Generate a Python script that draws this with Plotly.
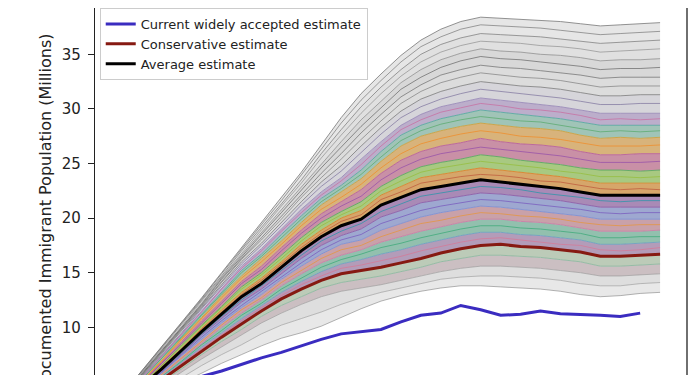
import plotly.graph_objects as go

# ---------------- data ----------------
years = list(range(1990, 2018))          # model ensemble years
years_current = list(range(1990, 2017))  # widely accepted estimate years

current_estimate = [3.5, 3.9, 4.3, 4.8, 5.5, 6.0, 6.6, 7.2, 7.7, 8.3, 8.9, 9.4, 9.6, 9.8,
                    10.5, 11.1, 11.3, 12.0, 11.6, 11.1, 11.2, 11.5, 11.25, 11.2, 11.1, 11.0, 11.3]
conservative_estimate = [2.5, 3.9, 5.2, 6.5, 7.8, 9.1, 10.3, 11.5, 12.6, 13.5, 14.3, 14.9, 15.2, 15.5,
                         15.9, 16.3, 16.8, 17.2, 17.5, 17.6, 17.4, 17.3, 17.1, 16.9, 16.5, 16.5, 16.6, 16.7]
average_estimate = [3.0, 4.6, 6.2, 7.9, 9.6, 11.2, 12.8, 14.0, 15.5, 17.0, 18.3, 19.3, 19.9, 21.2,
                    21.9, 22.6, 22.9, 23.2, 23.5, 23.3, 23.1, 22.9, 22.7, 22.4, 22.1, 22.1, 22.1, 22.1]

# individual simulation runs that bound the bands of the ensemble (bottom to top)
run_low_edge = [2.0, 3.0, 4.0, 4.9, 5.8, 6.7, 7.5, 8.3, 9.0, 9.5, 10.1, 10.9, 11.7, 12.4,
                12.9, 13.3, 13.6, 13.8, 13.8, 13.7, 13.6, 13.5, 13.3, 13.0, 12.8, 12.9, 13.1, 13.2]
run_low_2 = [2.2, 3.3, 4.4, 5.4, 6.5, 7.5, 8.4, 9.4, 10.2, 10.8, 11.4, 12.1, 12.7, 13.2,
             13.6, 14.0, 14.4, 14.6, 14.7, 14.7, 14.6, 14.5, 14.3, 14.0, 13.8, 13.8, 14.0, 14.1]
run_low_3 = [2.3, 3.5, 4.7, 5.9, 7.1, 8.2, 9.3, 10.4, 11.3, 12.1, 12.8, 13.3, 13.6, 13.9,
             14.3, 14.7, 15.1, 15.4, 15.6, 15.6, 15.5, 15.4, 15.2, 15.0, 14.7, 14.7, 14.8, 14.9]
run_c01 = [2.4, 3.7, 5.0, 6.2, 7.5, 8.7, 9.8, 11.0, 12.0, 12.8, 13.6, 14.1, 14.4, 14.7,
           15.1, 15.5, 16.0, 16.3, 16.6, 16.6, 16.5, 16.4, 16.2, 16.0, 15.6, 15.6, 15.7, 15.8]
run_c03 = [2.6, 4.0, 5.4, 6.8, 8.2, 9.5, 10.8, 12.0, 13.2, 14.2, 15.1, 15.8, 16.2, 16.7,
           17.1, 17.6, 18.0, 18.4, 18.7, 18.7, 18.5, 18.4, 18.2, 18.0, 17.6, 17.6, 17.7, 17.8]
run_c04 = [2.7, 4.2, 5.6, 7.1, 8.5, 10.0, 11.3, 12.5, 13.8, 14.9, 15.9, 16.6, 17.1, 17.8,
           18.3, 18.8, 19.2, 19.6, 19.9, 19.9, 19.7, 19.6, 19.4, 19.1, 18.8, 18.8, 18.8, 18.9]
run_c05 = [2.8, 4.3, 5.8, 7.4, 8.9, 10.4, 11.8, 13.0, 14.4, 15.6, 16.7, 17.6, 18.0, 18.9,
           19.5, 20.1, 20.5, 20.8, 21.1, 21.0, 20.8, 20.6, 20.4, 20.2, 19.9, 19.9, 19.9, 19.9]
run_c06 = [2.9, 4.5, 6.0, 7.6, 9.3, 10.8, 12.3, 13.5, 14.9, 16.3, 17.5, 18.4, 19.0, 20.1,
           20.7, 21.4, 21.7, 22.0, 22.3, 22.2, 22.0, 21.8, 21.6, 21.3, 21.0, 21.0, 21.0, 21.0]
run_c08 = [3.1, 4.7, 6.4, 8.1, 9.9, 11.6, 13.2, 14.5, 16.0, 17.6, 18.9, 20.0, 20.7, 22.1,
           22.9, 23.7, 24.0, 24.3, 24.6, 24.4, 24.2, 24.0, 23.8, 23.5, 23.2, 23.2, 23.2, 23.2]
run_c09 = [3.1, 4.8, 6.5, 8.4, 10.2, 11.9, 13.7, 15.0, 16.6, 18.2, 19.6, 20.6, 21.5, 22.9,
           23.9, 24.7, 25.1, 25.4, 25.8, 25.6, 25.3, 25.1, 24.9, 24.6, 24.4, 24.4, 24.3, 24.4]
run_c10 = [3.2, 5.0, 6.8, 8.7, 10.6, 12.4, 14.2, 15.6, 17.3, 18.9, 20.4, 21.5, 22.6, 24.1,
           25.3, 26.1, 26.6, 26.9, 27.3, 27.0, 26.8, 26.7, 26.5, 26.1, 25.8, 25.8, 25.9, 25.9]
run_c11 = [3.2, 5.1, 7.0, 9.0, 10.9, 12.9, 14.7, 16.3, 17.9, 19.6, 21.2, 22.4, 23.6, 25.2,
           26.6, 27.5, 28.0, 28.4, 28.7, 28.5, 28.3, 28.2, 28.0, 27.6, 27.3, 27.4, 27.3, 27.4]
run_c12 = [3.3, 5.2, 7.2, 9.2, 11.2, 13.3, 15.2, 16.7, 18.5, 20.2, 21.8, 23.0, 24.4, 26.1,
           27.6, 28.5, 29.1, 29.5, 29.9, 29.7, 29.5, 29.3, 29.1, 28.8, 28.5, 28.5, 28.5, 28.5]
run_c13 = [3.3, 5.3, 7.3, 9.4, 11.5, 13.6, 15.6, 17.2, 19.0, 20.8, 22.4, 23.7, 25.4, 27.0,
           28.5, 29.5, 30.2, 30.6, 31.0, 30.8, 30.6, 30.4, 30.2, 29.9, 29.6, 29.6, 29.6, 29.6]
run_high_1 = [3.4, 5.5, 7.5, 9.6, 11.8, 13.9, 16.0, 17.7, 19.6, 21.5, 23.3, 24.8, 26.6, 28.3,
              29.8, 30.9, 31.6, 32.1, 32.5, 32.3, 32.1, 32.0, 31.8, 31.5, 31.2, 31.2, 31.3, 31.3]
run_high_2 = [3.5, 5.6, 7.7, 9.8, 12.0, 14.2, 16.3, 18.2, 20.2, 22.2, 24.1, 25.9, 27.8, 29.5,
              31.1, 32.2, 33.1, 33.6, 34.0, 33.8, 33.7, 33.5, 33.3, 33.1, 32.8, 32.9, 32.9, 32.9]
run_high_3 = [3.6, 5.7, 7.9, 10.0, 12.2, 14.5, 16.6, 18.7, 20.8, 22.9, 25.0, 27.0, 29.0, 30.7,
              32.4, 33.6, 34.5, 35.1, 35.5, 35.3, 35.2, 35.0, 34.9, 34.7, 34.4, 34.5, 34.5, 34.6]
run_high_4 = [3.7, 5.9, 8.0, 10.2, 12.5, 14.7, 17.0, 19.1, 21.3, 23.5, 25.9, 28.1, 30.2, 32.0,
              33.6, 35.0, 35.9, 36.5, 36.9, 36.8, 36.7, 36.6, 36.4, 36.2, 36.0, 36.1, 36.2, 36.3]
run_high_edge = [3.8, 6.0, 8.2, 10.4, 12.7, 15.0, 17.3, 19.6, 21.9, 24.2, 26.7, 29.2, 31.4, 33.2,
                 34.9, 36.3, 37.3, 38.0, 38.4, 38.3, 38.2, 38.1, 38.0, 37.8, 37.6, 37.7, 37.8, 37.9]

# further individual runs visible inside the bands (thin lines)
run_x01 = [2.6, 4.0, 5.3, 6.7, 8.0, 9.3, 10.6, 11.8, 12.9, 13.9, 14.7, 15.4, 15.7, 16.1,
           16.5, 17.0, 17.4, 17.8, 18.1, 18.2, 18.0, 17.8, 17.6, 17.5, 17.1, 17.0, 17.1, 17.3]
run_x02 = [2.7, 4.1, 5.5, 6.9, 8.4, 9.7, 11.1, 12.2, 13.5, 14.5, 15.5, 16.2, 16.7, 17.3,
           17.7, 18.2, 18.6, 19.0, 19.3, 19.3, 19.1, 19.0, 18.8, 18.6, 18.2, 18.2, 18.3, 18.3]
run_x03 = [2.8, 4.3, 5.7, 7.2, 8.7, 10.2, 11.6, 12.7, 14.1, 15.2, 16.3, 17.1, 17.5, 18.3,
           18.9, 19.5, 19.8, 20.2, 20.5, 20.4, 20.2, 20.1, 19.9, 19.6, 19.4, 19.3, 19.4, 19.4]
run_x04 = [2.9, 4.4, 5.9, 7.5, 9.1, 10.6, 12.0, 13.3, 14.6, 15.9, 17.1, 18.0, 18.5, 19.5,
           20.1, 20.7, 21.1, 21.4, 21.7, 21.6, 21.4, 21.2, 21.0, 20.8, 20.5, 20.4, 20.5, 20.5]
run_x05 = [3.0, 4.5, 6.1, 7.7, 9.4, 11.0, 12.5, 13.8, 15.2, 16.6, 17.9, 18.8, 19.5, 20.6,
           21.3, 22.0, 22.3, 22.6, 22.9, 22.8, 22.6, 22.3, 22.1, 21.9, 21.6, 21.5, 21.6, 21.6]
run_x06 = [3.0, 4.7, 6.3, 8.0, 9.8, 11.4, 13.0, 14.3, 15.8, 17.3, 18.6, 19.7, 20.3, 21.7,
           22.4, 23.2, 23.5, 23.8, 24.0, 23.9, 23.7, 23.4, 23.3, 23.0, 22.7, 22.6, 22.7, 22.6]
run_x07 = [3.1, 4.8, 6.5, 8.3, 10.1, 11.8, 13.5, 14.8, 16.3, 17.9, 19.3, 20.3, 21.1, 22.5,
           23.4, 24.2, 24.6, 24.9, 25.2, 25.0, 24.8, 24.6, 24.3, 24.1, 23.8, 23.8, 23.7, 23.8]
run_x08 = [3.2, 4.9, 6.7, 8.6, 10.4, 12.2, 14.0, 15.3, 17.0, 18.6, 20.0, 21.1, 22.0, 23.5,
           24.6, 25.4, 25.9, 26.2, 26.5, 26.3, 26.1, 25.9, 25.7, 25.4, 25.1, 25.1, 25.1, 25.2]
run_x09 = [3.2, 5.1, 6.9, 8.9, 10.8, 12.7, 14.5, 16.0, 17.6, 19.3, 20.8, 21.9, 23.1, 24.6,
           25.9, 26.8, 27.3, 27.7, 28.0, 27.8, 27.5, 27.4, 27.2, 26.9, 26.6, 26.6, 26.6, 26.7]
run_x10 = [3.3, 5.2, 7.1, 9.1, 11.1, 13.1, 15.0, 16.5, 18.2, 19.9, 21.5, 22.7, 24.0, 25.6,
           27.1, 28.0, 28.6, 29.0, 29.3, 29.1, 28.9, 28.8, 28.5, 28.2, 27.9, 28.0, 27.9, 28.0]
run_x11 = [3.3, 5.3, 7.3, 9.3, 11.4, 13.5, 15.4, 17.0, 18.8, 20.5, 22.1, 23.4, 24.9, 26.6,
           28.1, 29.0, 29.7, 30.1, 30.5, 30.3, 30.0, 29.9, 29.7, 29.4, 29.0, 29.1, 29.0, 29.1]
run_x12 = [3.4, 5.4, 7.4, 9.5, 11.7, 13.8, 15.8, 17.5, 19.3, 21.2, 22.9, 24.3, 26.0, 27.7,
           29.2, 30.2, 30.9, 31.4, 31.8, 31.6, 31.4, 31.2, 31.0, 30.7, 30.4, 30.4, 30.5, 30.5]
run_x13 = [3.5, 5.6, 7.6, 9.7, 11.9, 14.1, 16.2, 18.0, 19.9, 21.9, 23.7, 25.4, 27.2, 28.9,
           30.5, 31.6, 32.4, 32.9, 33.3, 33.1, 32.9, 32.8, 32.6, 32.3, 32.0, 32.1, 32.1, 32.1]
run_x14 = [3.6, 5.7, 7.8, 9.9, 12.1, 14.4, 16.5, 18.5, 20.5, 22.6, 24.6, 26.5, 28.4, 30.1,
           31.8, 32.9, 33.8, 34.4, 34.8, 34.6, 34.5, 34.3, 34.1, 33.9, 33.6, 33.7, 33.7, 33.8]
run_x15 = [3.7, 5.8, 8.0, 10.1, 12.4, 14.6, 16.8, 18.9, 21.1, 23.2, 25.5, 27.6, 29.6, 31.4,
           33.0, 34.3, 35.2, 35.8, 36.2, 36.1, 36.0, 35.8, 35.7, 35.5, 35.2, 35.3, 35.4, 35.5]
run_x16 = [3.8, 6.0, 8.1, 10.3, 12.6, 14.9, 17.2, 19.4, 21.6, 23.9, 26.3, 28.7, 30.8, 32.6,
           34.3, 35.7, 36.6, 37.3, 37.7, 37.6, 37.5, 37.4, 37.2, 37.0, 36.8, 36.9, 37.0, 37.1]

y_ticks = [10, 15, 20, 25, 30, 35]

# ---------------- figure ----------------
fig = go.Figure()

# (run, band fill colour below it, line colour, line width)
ensemble = [
    (run_low_edge, None, "rgba(120,120,120,0.7)", 0.8),
    (run_low_2, "#e8e8e8", "rgba(140,140,140,0.7)", 0.8),
    (run_low_3, "#dedede", "rgba(150,150,150,0.8)", 0.8),
    (run_c01, "#cbbfc2", "#8fb8a0", 0.9),
    (conservative_estimate, "#bccbb8", "#c98f8f", 0.9),
    (run_c03, "#b39cb9", "#6f9fbf", 0.9),
    (run_c04, "#92c0ae", "#c77fa6", 0.9),
    (run_c05, "#c9a1a9", "#7f8fd0", 0.9),
    (run_c06, "#9ea8d0", "#8b5fa8", 0.9),
    (average_estimate, "#a98ab6", "#9a6fb0", 0.9),
    (run_c08, "#d6a66a", "#d9822b", 0.9),
    (run_c09, "#a8c981", "#5aa860", 0.9),
    (run_c10, "#c990a6", "#b8609a", 0.9),
    (run_c11, "#d8b37b", "#c9a040", 0.9),
    (run_c12, "#a0c4b7", "#58a8a0", 0.9),
    (run_c13, "#bcaecb", "#9a8ab8", 0.9),
    (run_high_1, "#d6d5da", "rgba(110,110,110,0.8)", 0.9),
    (run_high_2, "#dcdcdc", "rgba(90,90,90,0.7)", 0.9),
    (run_high_3, "#d8d8d8", "rgba(120,120,120,0.7)", 0.9),
    (run_high_4, "#e0e0e0", "rgba(100,100,100,0.7)", 0.9),
    (run_high_edge, "#e6e6e6", "rgba(120,120,120,0.8)", 1.0),
]

for run, fillc, linec, lw in ensemble:
    fig.add_trace(go.Scatter(
        x=years, y=run, mode="lines",
        line=dict(color=linec, width=lw),
        fill="tonexty" if fillc else None,
        fillcolor=fillc,
        showlegend=False, hoverinfo="skip",
    ))

thin_runs = [
    (run_x01, "rgba(214,120,150,0.75)"),
    (run_x02, "rgba(60,170,120,0.75)"),
    (run_x03, "rgba(230,150,60,0.75)"),
    (run_x04, "rgba(120,90,190,0.75)"),
    (run_x05, "rgba(40,150,170,0.75)"),
    (run_x06, "rgba(190,90,60,0.75)"),
    (run_x07, "rgba(150,190,60,0.75)"),
    (run_x08, "rgba(150,80,170,0.75)"),
    (run_x09, "rgba(240,140,40,0.75)"),
    (run_x10, "rgba(90,170,110,0.75)"),
    (run_x11, "rgba(200,110,160,0.75)"),
    (run_x12, "rgba(130,120,160,0.75)"),
    (run_x13, "rgba(110,110,110,0.6)"),
    (run_x14, "rgba(70,70,70,0.55)"),
    (run_x15, "rgba(130,130,130,0.6)"),
    (run_x16, "rgba(90,90,90,0.55)"),
]
for run, linec in thin_runs:
    fig.add_trace(go.Scatter(
        x=years, y=run, mode="lines", line=dict(color=linec, width=1),
        showlegend=False, hoverinfo="skip",
    ))

fig.add_trace(go.Scatter(
    x=years_current, y=current_estimate, mode="lines",
    line=dict(color="#3a2cc0", width=3),
    name="Current widely accepted estimate",
))
fig.add_trace(go.Scatter(
    x=years, y=conservative_estimate, mode="lines",
    line=dict(color="#861a12", width=3),
    name="Conservative estimate",
))
fig.add_trace(go.Scatter(
    x=years, y=average_estimate, mode="lines",
    line=dict(color="#000000", width=3),
    name="Average estimate",
))

# page is shown with an 8px body margin: layout is offset to compensate
PLOT_L, PLOT_W, PLOT_H = 87, 592, 375

fig.add_annotation(
    text="Undocumented Immigrant Population (Millions)",
    textangle=-90, xref="paper", yref="paper",
    x=(37 - PLOT_L) / PLOT_W, y=1 - 214 / PLOT_H,
    xanchor="center", yanchor="middle", showarrow=False,
    font=dict(family="DejaVu Sans", size=16, color="#222"),
)

# right spine
fig.add_shape(type="line", xref="paper", yref="paper", x0=1, x1=1, y0=0, y1=1,
              line=dict(color="#222", width=1.3))

fig.update_layout(
    width=700, height=375,
    margin=dict(l=PLOT_L, r=700 - PLOT_L - PLOT_W, t=0, b=0, autoexpand=False),
    paper_bgcolor="white", plot_bgcolor="white",
    xaxis=dict(range=[1988.65, 2018.35], showgrid=False, showline=False,
               showticklabels=False, ticks="", zeroline=False),
    yaxis=dict(range=[4.90, 39.24], tickvals=y_ticks, ticks="outside", ticklen=6,
               tickwidth=1.2, tickcolor="#222", showline=True, linecolor="#222",
               linewidth=1.3, showgrid=False, zeroline=False,
               ticklabelstandoff=4,
               tickfont=dict(family="DejaVu Sans", size=15, color="#222")),
    legend=dict(x=0.008, y=1, xanchor="left", yanchor="top",
                traceorder="normal",
                bgcolor="rgba(255,255,255,0.92)", bordercolor="#cccccc", borderwidth=1,
                font=dict(family="DejaVu Sans", size=13, color="#222"),
                tracegroupgap=0),
)

fig.write_html("out.html")
